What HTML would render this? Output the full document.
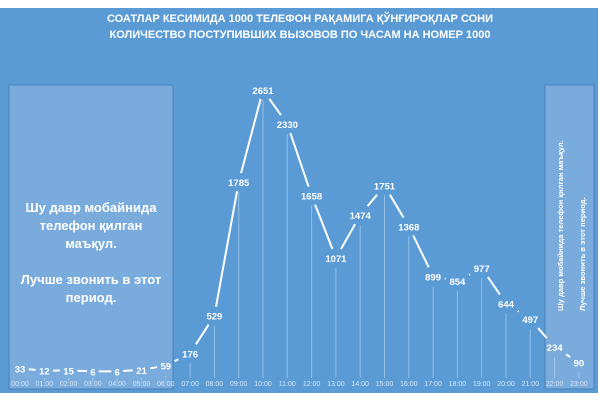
<!DOCTYPE html>
<html><head><meta charset="utf-8"><style>
body{margin:0;background:#fff;width:600px;height:400px;overflow:hidden}
svg{display:block;font-family:"Liberation Sans","DejaVu Sans",sans-serif}
</style></head><body>
<svg id="s" width="600" height="400" xmlns="http://www.w3.org/2000/svg">
<rect x="0" y="8" width="598" height="385" fill="#5b9bd5"/>
<text x="300" y="22" fill="#fff" font-size="11" font-weight="bold" text-anchor="middle">СОАТЛАР КЕСИМИДА 1000 ТЕЛЕФОН РАҚАМИГА ҚЎНҒИРОҚЛАР СОНИ</text>
<text x="300" y="38" fill="#fff" font-size="11" font-weight="bold" text-anchor="middle">КОЛИЧЕСТВО ПОСТУПИВШИХ ВЫЗОВОВ ПО ЧАСАМ НА НОМЕР 1000</text>
<rect x="9" y="85" width="164" height="304" fill="#79abdd" stroke="#4a80b8" stroke-width="1"/>
<rect x="545" y="85" width="49" height="304" fill="#79abdd" stroke="#4a80b8" stroke-width="1"/>
<g fill="#fff" font-size="13" font-weight="bold" text-anchor="middle">
<text x="91" y="212">Шу давр мобайнида</text>
<text x="91" y="230">телефон қилган</text>
<text x="91" y="248">маъқул.</text>
<text x="91" y="284">Лучше звонить в этот</text>
<text x="91" y="302">период.</text>
</g>
<g fill="#fff" font-size="7.6" font-weight="bold">
<text transform="translate(563,311) rotate(-90)">Шу давр мобайнида телефон қилган маъқул.</text>
<text transform="translate(585,311) rotate(-90)">Лучше звонить в этот период.</text>
</g>
<g id="g"></g>
</svg>
<script>
var v=[33,12,15,6,6,21,59,176,529,1785,2651,2330,1658,1071,1474,1751,1368,899,854,977,644,497,234,90];
var g=document.getElementById('g'),h='';
function X(i){return 20+24.3*i}function Y(i){return 372-v[i]*0.1064}
function sh(i,dx,dy){var w=String(v[i]).length*2.9+3,hh=9;var a=Math.abs(dx)>0.01?w/Math.abs(dx):1e9,b=Math.abs(dy)>0.01?hh/Math.abs(dy):1e9;return Math.min(a,b);}
for(var i=0;i<24;i++){
 var x=X(i),y=Y(i);
 if(388-(y+10)>4)h+='<line x1="'+x+'" y1="'+(y+10)+'" x2="'+x+'" y2="378" stroke="#fff" stroke-opacity="0.35" stroke-width="1"/>';
 h+='<text x="'+x+'" y="'+(y+4)+'" fill="#fff" font-size="9.5" font-weight="bold" text-anchor="middle">'+v[i]+'</text>';
 h+='<text x="'+x+'" y="386" fill="#d6e6f6" font-size="7" text-anchor="middle">'+(i<10?'0':'')+i+':00</text>';
 if(i<23){var x2=X(i+1),y2=Y(i+1),dx=x2-x,dy=y2-y;
  var t1=sh(i,dx,dy),t2=1-sh(i+1,dx,dy);
  if(t2-t1>0.02){h+='<line x1="'+(x+dx*t1)+'" y1="'+(y+dy*t1)+'" x2="'+(x+dx*t2)+'" y2="'+(y+dy*t2)+'" stroke="#fff" stroke-width="2"/>';}}
}
g.innerHTML=h;
</script>
</body></html>
